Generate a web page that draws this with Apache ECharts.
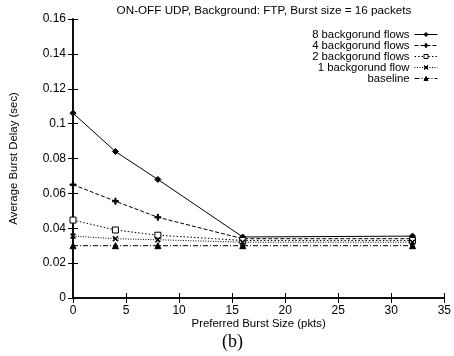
<!DOCTYPE html>
<html><head><meta charset="utf-8">
<script src="https://cdn.jsdelivr.net/npm/echarts@6/dist/echarts.min.js"></script>
<style>html,body{margin:0;padding:0;background:#fff}#c{width:454px;height:356px}</style>
</head><body><div id="c"></div>
<script>
const xValues = [0, 4, 8, 16, 32];
const flows8 = [0.106, 0.084, 0.068, 0.035, 0.0355];
const flows4 = [0.065, 0.0555, 0.0463, 0.034, 0.034];
const flows2 = [0.0447, 0.039, 0.036, 0.033, 0.033];
const flows1 = [0.0355, 0.034, 0.0334, 0.032, 0.032];
const baseline = [0.030, 0.030, 0.030, 0.030, 0.030];
const seriesNames = ['8 backgorund flows', '4 backgorund flows', '2 backgorund flows', '1 backgorund flow', 'baseline'];

const plusPath = 'path://M4,0L6,0L6,4L10,4L10,6L6,6L6,10L4,10L4,6L0,6L0,4L4,4Z';
const crossPath = 'path://M1,0L5,3.6L9,0L10,1L6.4,5L10,9L9,10L5,6.4L1,10L0,9L3.6,5L0,1Z';
const F = 'Liberation Sans, Arial, sans-serif';

function mk(name, vals, dash, symbol, size, fill) {
  return {
    name, type: 'line', data: xValues.map((x, i) => [x, vals[i]]),
    symbol, symbolSize: size, showAllSymbol: true,
    lineStyle: { color: '#000', width: 1, type: dash },
    itemStyle: { color: fill ? '#000' : '#fff', borderColor: '#000', borderWidth: 1 },
    emphasis: { disabled: true }, animation: false
  };
}

const chart = echarts.init(document.getElementById('c'));
chart.setOption({
  animation: false,
  title: { text: 'ON-OFF UDP, Background: FTP, Burst size = 16 packets', left: 259, textAlign: 'center', top: 0,
    textStyle: { fontFamily: F, fontSize: 11.7, fontWeight: 'normal', color: '#000' } },
  grid: { left: 71, right: 6, top: 19, bottom: 58 },
  legend: {
    orient: 'vertical', right: 11, top: 24, align: 'right', itemWidth: 23, itemHeight: 5, itemGap: 0,
    padding: [5, 5, 5, 5],
    data: seriesNames,
    lineStyle: { width: 1 },
    itemStyle: { borderWidth: 1 },
    textStyle: { fontFamily: F, fontSize: 11.3, lineHeight: 11, height: 11, color: '#000', width: 120, align: 'right', padding: [0, 0, 0, 0] },
    inactiveColor: '#000'
  },
  xAxis: [{
    type: 'value', min: 0, max: 35, interval: 5,
    name: 'Preferred Burst Size (pkts)', nameLocation: 'middle', nameGap: 20, nameMoveOverlap: false,
    nameTextStyle: { fontFamily: F, fontSize: 11.4, color: '#000' },
    axisLine: { lineStyle: { color: '#000', width: 1.5 } },
    axisTick: { inside: true, length: 5, lineStyle: { color: '#000' } },
    axisLabel: { fontFamily: F, fontSize: 12, color: '#000', margin: 7 },
    splitLine: { show: false }
  }, {
    type: 'value', position: 'top', min: 0, max: 35, interval: 5,
    axisLine: { show: true, lineStyle: { color: '#000', width: 1.5 } },
    axisTick: { inside: true, length: 5, lineStyle: { color: '#000' } },
    axisLabel: { show: false }, splitLine: { show: false }
  }],
  yAxis: [{
    type: 'value', min: 0, max: 0.16, interval: 0.02,
    name: 'Average Burst Delay (sec)', nameLocation: 'middle', nameGap: 54, nameMoveOverlap: false,
    nameTextStyle: { fontFamily: F, fontSize: 11.4, color: '#000' },
    axisLine: { show: true, lineStyle: { color: '#000', width: 1.5 } },
    axisTick: { show: true, inside: true, length: 5, lineStyle: { color: '#000' } },
    axisLabel: { fontFamily: F, fontSize: 12, color: '#000', margin: 7 },
    splitLine: { show: false }
  }, {
    type: 'value', position: 'right', min: 0, max: 0.16, interval: 0.02,
    axisLine: { show: true, lineStyle: { color: '#000', width: 1.5 } },
    axisTick: { show: true, inside: true, length: 5, lineStyle: { color: '#000' } },
    axisLabel: { show: false }, splitLine: { show: false }
  }],
  graphic: [{ type: 'text', left: 222, top: 333,
    style: { text: '(b)', font: '18px "Liberation Serif", "Times New Roman", serif', fill: '#000' } }],
  series: [
    mk(seriesNames[0], flows8, 'solid', 'diamond', 6, true),
    mk(seriesNames[1], flows4, [4, 2], plusPath, 6, true),
    mk(seriesNames[2], flows2, [1.5, 2], 'rect', 6, false),
    mk(seriesNames[3], flows1, [1, 1.5], crossPath, 5, true),
    mk(seriesNames[4], baseline, [5, 2, 1, 2], 'triangle', 6, true)
  ]
});
</script></body></html>
